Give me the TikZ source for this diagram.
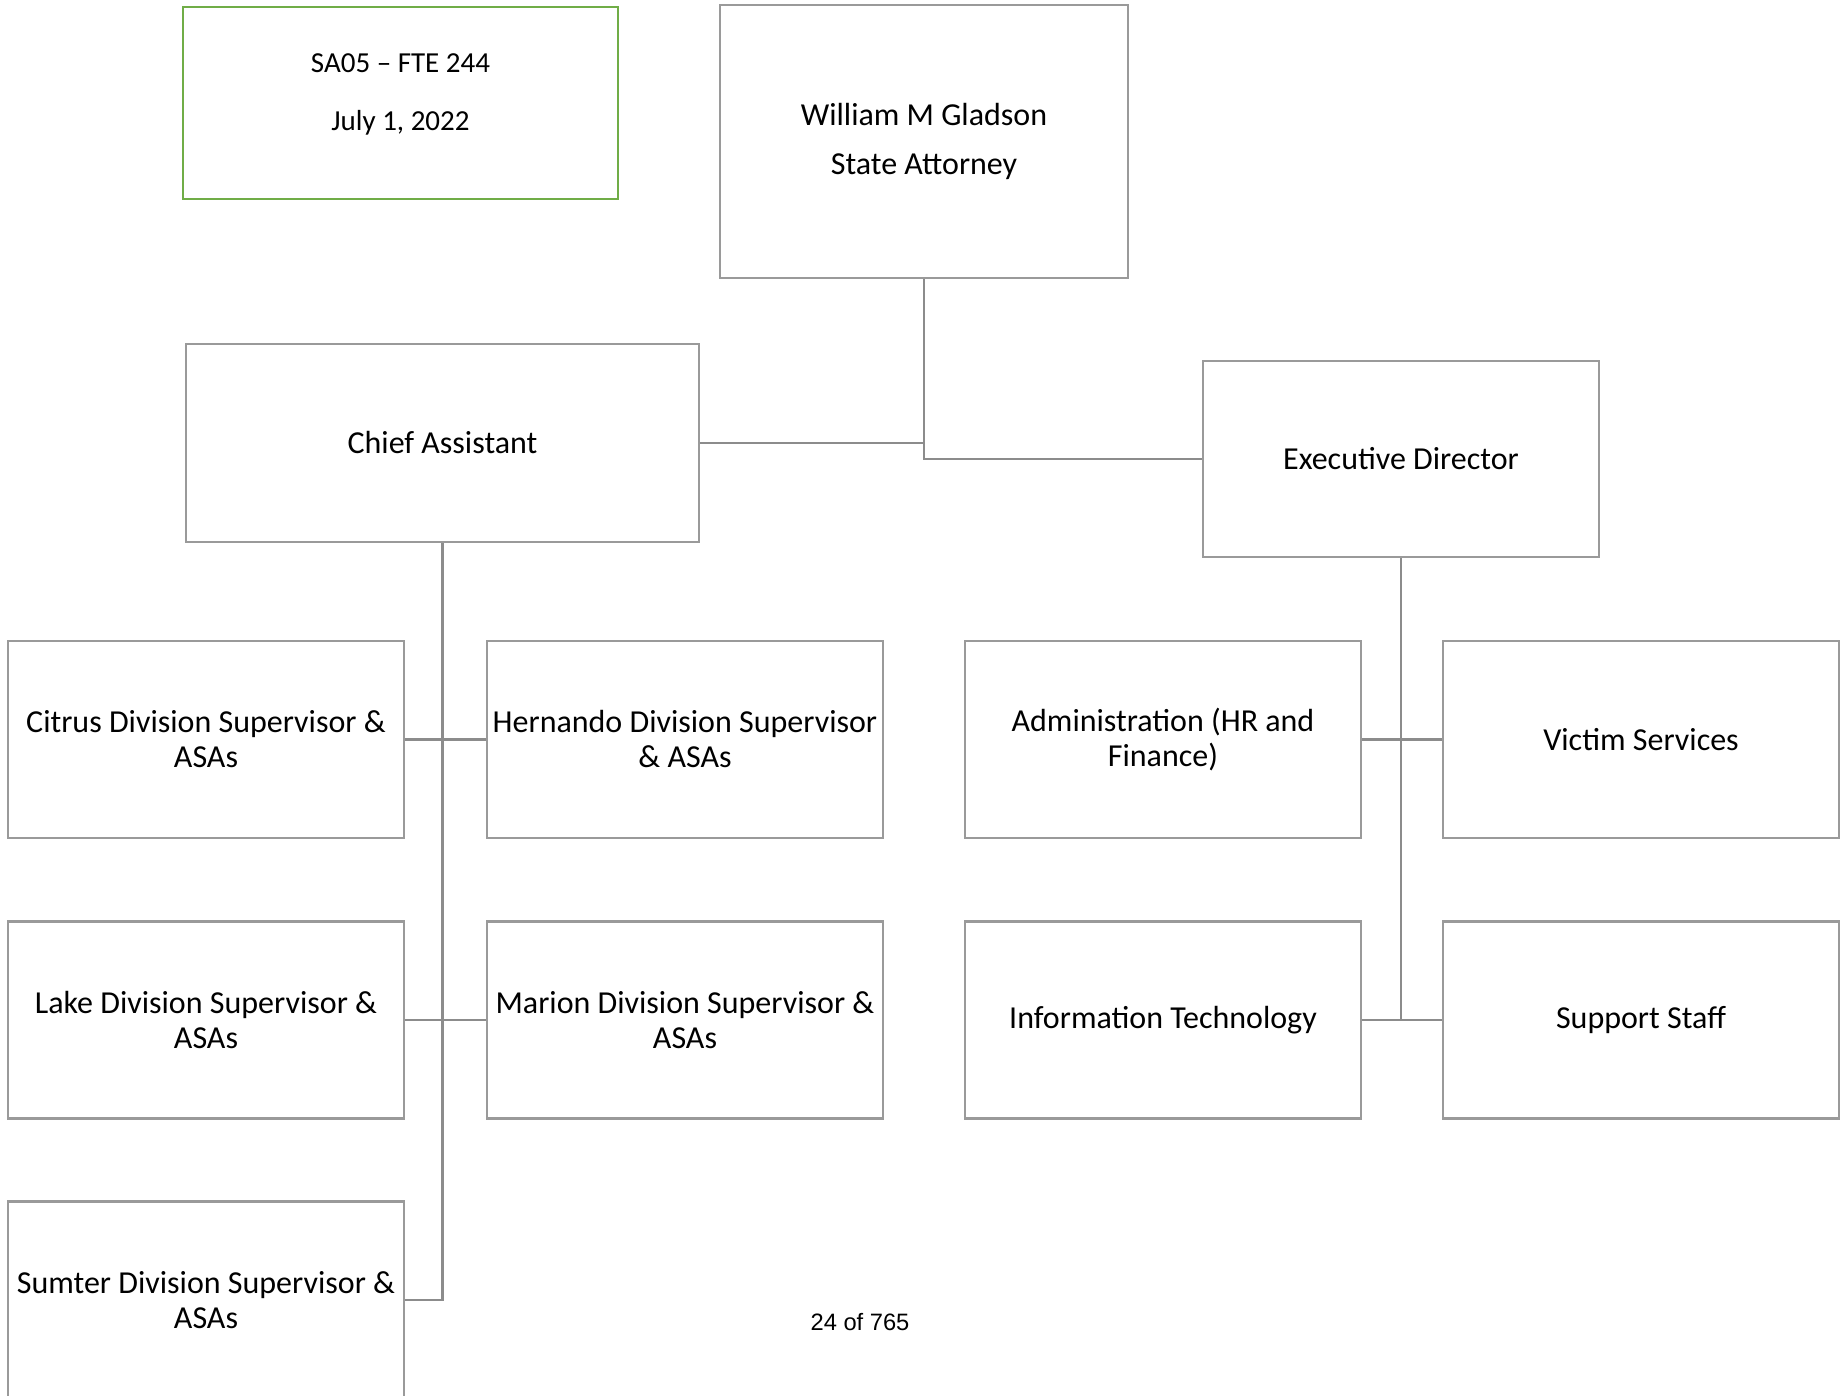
\documentclass[tikz,border=0pt]{standalone}
\usepackage{fontspec}
\setmainfont{Carlito}
\newfontfamily\pagefont{Liberation Sans}
\definecolor{boxgray}{HTML}{9A9A9A}
\definecolor{linegray}{HTML}{8C8C8C}
\definecolor{notegreen}{HTML}{70AD47}
\begin{document}
\begin{tikzpicture}[x=1pt,y=-1pt,
  orgbox/.style={draw=boxgray, line width=2.6pt, rectangle, inner sep=0pt,
    align=center, text=black, font=\fontsize{32}{35}\selectfont},
  unitbox/.style={orgbox, minimum width=396pt, minimum height=197pt},
  link/.style={draw=linegray, line width=2.6pt}]
\useasboundingbox[fill=white] (0,0) rectangle (1848,1396);

% header note
\node[orgbox, draw=notegreen, minimum width=435pt, minimum height=192pt] (note) at (400.5,103) {};
\node[align=center, inner sep=0pt, font=\fontsize{29}{58}\selectfont] (notetext) at (400.5,94) {SA05 – FTE 244\\July 1, 2022};

% top level
\node[orgbox, minimum width=408pt, minimum height=273pt,
  font=\fontsize{32}{49}\selectfont] (sa) at (924,141.5) {William M Gladson\\State Attorney};

% second level
\node[orgbox, minimum width=513pt, minimum height=198pt] (chief) at (442.5,443) {Chief Assistant};
\node[orgbox, minimum width=396pt, minimum height=196pt] (exec) at (1401,459) {Executive Director};

% divisions under the Chief Assistant
\node[unitbox] (citrus) at (206,739.5) {Citrus Division Supervisor \&\\ASAs};
\node[unitbox] (hernando) at (685,739.5) {Hernando Division Supervisor\\\& ASAs};
\node[unitbox] (lake) at (206,1020) {Lake Division Supervisor \&\\ASAs};
\node[unitbox] (marion) at (685,1020) {Marion Division Supervisor \&\\ASAs};
\node[unitbox] (sumter) at (206,1300) {Sumter Division Supervisor \&\\ASAs};

% units under the Executive Director
\node[unitbox] (admin) at (1163,739.5) {Administration (HR and\\Finance)};
\node[unitbox] (victim) at (1641,739.5) {Victim Services};
\node[unitbox] (it) at (1163,1020) {Information Technology};
\node[unitbox] (support) at (1641,1020) {Support Staff};

% connectors
\draw[link] (sa.south) |- (exec.west);
\draw[link] (chief.east) -- (chief.east -| sa.south);
\draw[link] (chief.south) |- (sumter.east);
\draw[link] (citrus.east) -- (hernando.west);
\draw[link] (lake.east) -- (marion.west);
\draw[link] (exec.south) -- (exec.south |- it.east);
\draw[link] (admin.east) -- (victim.west);
\draw[link] (it.east) -- (support.west);

% page number
\node[font=\pagefont\fontsize{23.7}{28}\selectfont, inner sep=0pt] (pageno) at (860,1322) {24 of 765};
\end{tikzpicture}
\end{document}
